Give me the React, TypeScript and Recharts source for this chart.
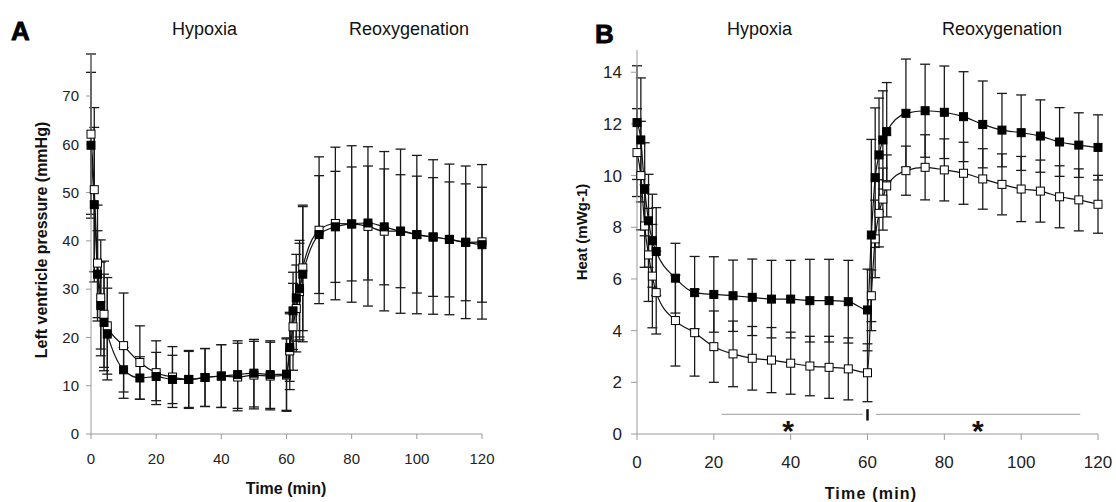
import React from "react"
import { LineChart, Line, XAxis, YAxis, ErrorBar, ReferenceLine, ReferenceDot } from "recharts"

// sampling times (min) shared by both panels
const times = [0, 1, 2, 3, 4, 5, 10, 15, 20, 25, 30, 35, 40, 45, 50, 55, 60, 61, 62, 63, 64, 65, 70, 75, 80, 85, 90, 95, 100, 105, 110, 115, 120]
const timeTicks = [0, 20, 40, 60, 80, 100, 120]
const pressureTicks = [0, 10, 20, 30, 40, 50, 60, 70]
const heatTicks = [0, 2, 4, 6, 8, 10, 12, 14]

// panel A: left ventricle pressure (mmHg)
const pressureFilled = [59.8, 47.5, 33.1, 26.6, 23.1, 20.7, 13.3, 11.6, 11.9, 11.3, 11.3, 11.7, 12.0, 12.3, 12.6, 12.3, 12.4, 17.9, 25.5, 28.2, 30.1, 33.1, 41.3, 42.9, 43.5, 43.7, 42.9, 42.0, 41.3, 40.8, 40.3, 39.7, 39.2]
const pressureOpen = [62.1, 50.6, 35.4, 28.2, 24.8, 22.4, 18.3, 14.8, 12.7, 11.8, 11.3, 11.7, 12.0, 11.8, 12.2, 12.0, 12.2, 17.2, 22.2, 26.0, 29.5, 34.4, 42.2, 43.6, 43.5, 43.0, 42.0, 42.0, 41.3, 40.8, 40.3, 39.7, 39.8]
const pressureFilledSd = [15.1, 16, 9, 9, 10, 9.5, 4.6, 4.4, 5, 5, 5.8, 6, 6.5, 7, 7, 7, 7.5, 7, 8, 9, 10, 14, 12.2, 11.5, 11.8, 11.8, 12, 11.7, 12.1, 12.3, 11.9, 12.1, 11.9]
const pressureOpenSd = [16.6, 17, 12, 12, 11, 10, 10.9, 7.6, 6.6, 6.3, 6, 6, 6.5, 7, 7, 7, 7.5, 8, 9, 9, 10, 13, 15.2, 15.8, 16.2, 16.5, 16.5, 17, 16.4, 16, 15.6, 15.8, 16]

// panel B: heat (mW g-1)
const heatFilled = [12.05, 11.38, 9.47, 8.25, 7.48, 7.06, 6.03, 5.47, 5.40, 5.35, 5.29, 5.22, 5.22, 5.16, 5.16, 5.12, 4.80, 7.70, 9.92, 10.80, 11.38, 11.70, 12.41, 12.51, 12.45, 12.28, 11.98, 11.76, 11.66, 11.53, 11.30, 11.18, 11.09]
const heatOpen = [10.89, 10.0, 8.05, 6.93, 6.11, 5.47, 4.39, 3.92, 3.38, 3.10, 2.93, 2.86, 2.74, 2.63, 2.58, 2.52, 2.37, 5.35, 7.55, 8.54, 9.09, 9.60, 10.19, 10.32, 10.22, 10.09, 9.87, 9.66, 9.48, 9.40, 9.18, 9.06, 8.89]
const heatFilledSd = [2.2, 2.4, 1.8, 1.8, 1.8, 1.7, 1.35, 1.4, 1.46, 1.38, 1.48, 1.5, 1.5, 1.6, 1.6, 1.6, 1.58, 3.7, 2.7, 2.2, 1.9, 1.9, 2.1, 1.8, 1.79, 1.74, 1.68, 1.42, 1.46, 1.4, 1.33, 1.25, 1.26]
const heatOpenSd = [1.7, 2.1, 1.6, 1.8, 2.0, 1.6, 1.76, 1.68, 1.38, 1.27, 1.23, 1.26, 1.2, 1.15, 1.2, 1.2, 1.12, 1.0, 1.5, 1.3, 1.2, 1.2, 0.95, 1.26, 1.2, 1.2, 1.17, 1.18, 1.26, 1.2, 1.2, 1.2, 1.12]

// significance bar under panel B
const sigLevel = 0.76
const sigLeft = [22, 58.8]
const sigRight = [62.2, 115.4]
const sigMark = [0.52, 0.96]
const starTimes = [39.3, 88.7]
const starLevel = 0.27

const pressureRows = times.map((t, i) => ({
  t, filled: pressureFilled[i], open: pressureOpen[i], sdF: pressureFilledSd[i], sdO: pressureOpenSd[i],
}))
const heatRows = times.map((t, i) => ({
  t, filled: heatFilled[i], open: heatOpen[i], sdF: heatFilledSd[i], sdO: heatOpenSd[i],
}))

const FONT = "'Liberation Sans', Arial, sans-serif"
const AXIS = "#9a9a9a"

const square = (fill: string) => (p: any) => {
  if (p.cx == null || p.cy == null) return <g key={`e-${fill}-${p.index}`} />
  return (
    <rect key={`sq-${fill}-${p.index}`} x={p.cx - 4} y={p.cy - 4} width={8} height={8}
      fill={fill} stroke="#000" strokeWidth={1} />
  )
}

const star = (p: any) => (
  <text x={p.cx} y={p.cy + 14} textAnchor="middle" fontSize={30} fontWeight={700} fontFamily={FONT} fill="#111">*</text>
)

function series() {
  // error bars first (hidden carrier lines) so every marker sits above them
  return [
    <Line key="eo" dataKey="open" stroke="none" dot={false} activeDot={false} legendType="none" isAnimationActive={false}>
      <ErrorBar dataKey="sdO" direction="y" width={5} stroke="#1a1a1a" strokeWidth={1.3} />
    </Line>,
    <Line key="ef" dataKey="filled" stroke="none" dot={false} activeDot={false} legendType="none" isAnimationActive={false}>
      <ErrorBar dataKey="sdF" direction="y" width={5} stroke="#1a1a1a" strokeWidth={1.3} />
    </Line>,
    <Line key="lo" type="monotone" dataKey="open" stroke="#111" strokeWidth={1.2} dot={square("#fff")} activeDot={false} isAnimationActive={false} />,
    <Line key="lf" type="monotone" dataKey="filled" stroke="#111" strokeWidth={1.2} dot={square("#000")} activeDot={false} isAnimationActive={false} />,
  ]
}

export default function App() {
  return (
    <div style={{ position: "absolute", left: 0, top: 0, width: 1116, height: 502, background: "#fff", fontFamily: FONT }}>
      <div style={{ position: "absolute", left: 0, top: 0 }}>
        <LineChart width={540} height={502} data={pressureRows} margin={{ top: 54, right: 58, bottom: 38, left: 0 }}>
          <XAxis dataKey="t" type="number" domain={[0, 120]} ticks={timeTicks} interval={0}
            stroke={AXIS} tickSize={5} tickMargin={14} height={30}
            tick={{ fontSize: 15, fill: "#222", fontFamily: FONT }} />
          <YAxis type="number" domain={[0, 78]} ticks={pressureTicks} interval={0} width={91}
            stroke={AXIS} tickSize={5} tickMargin={7}
            tick={{ fontSize: 15, fill: "#222", fontFamily: FONT }} />
          {series()}
        </LineChart>
      </div>

      <div style={{ position: "absolute", left: 540, top: 0 }}>
        <LineChart width={576} height={502} data={heatRows} margin={{ top: 50, right: 18, bottom: 38, left: 0 }}>
          <XAxis dataKey="t" type="number" domain={[0, 120]} ticks={timeTicks} interval={0}
            stroke={AXIS} tickSize={6} tickMargin={16} height={30}
            tick={{ fontSize: 17, fill: "#222", fontFamily: FONT }} />
          <YAxis type="number" domain={[0, 14.86]} ticks={heatTicks} interval={0} width={97}
            stroke={AXIS} tickSize={6} tickMargin={9}
            tick={{ fontSize: 17, fill: "#222", fontFamily: FONT }} />
          <ReferenceLine segment={[{ x: sigLeft[0], y: sigLevel }, { x: sigLeft[1], y: sigLevel }]} stroke="#b0b0b0" strokeWidth={1.3} />
          <ReferenceLine segment={[{ x: sigRight[0], y: sigLevel }, { x: sigRight[1], y: sigLevel }]} stroke="#b0b0b0" strokeWidth={1.3} />
          <ReferenceLine segment={[{ x: 60, y: sigMark[0] }, { x: 60, y: sigMark[1] }]} stroke="#111" strokeWidth={2.5} />
          {starTimes.map((s) => (
            <ReferenceDot key={s} x={s} y={starLevel} r={0} shape={star} />
          ))}
          {series()}
        </LineChart>
      </div>

      <svg width={1116} height={502} style={{ position: "absolute", left: 0, top: 0, pointerEvents: "none" }} fontFamily={FONT}>
        <text x={11} y={40} fontSize={26} fontWeight={900} fill="#000" stroke="#000" strokeWidth={0.8}>A</text>
        <text x={595} y={43} fontSize={26} fontWeight={900} fill="#000" stroke="#000" strokeWidth={0.8}>B</text>
        <text x={172} y={35} fontSize={18} fill="#111">Hypoxia</text>
        <text x={349} y={35} fontSize={18} fill="#111">Reoxygenation</text>
        <text x={727} y={35} fontSize={18} fill="#111">Hypoxia</text>
        <text x={942} y={35} fontSize={18} fill="#111">Reoxygenation</text>
        <text transform="translate(47,240) rotate(-90)" textAnchor="middle" fontSize={16} fontWeight={700} fill="#111">Left ventricle pressure (mmHg)</text>
        <text transform="translate(587,232) rotate(-90)" textAnchor="middle" fontSize={15} fontWeight={700} fill="#111">Heat (mWg-1)</text>
        <text x={286} y={494} textAnchor="middle" fontSize={16} fontWeight={700} fill="#111">Time (min)</text>
        <text x={871} y={499} textAnchor="middle" fontSize={16} fontWeight={700} letterSpacing={1.2} fill="#111">Time (min)</text>
      </svg>
    </div>
  )
}
